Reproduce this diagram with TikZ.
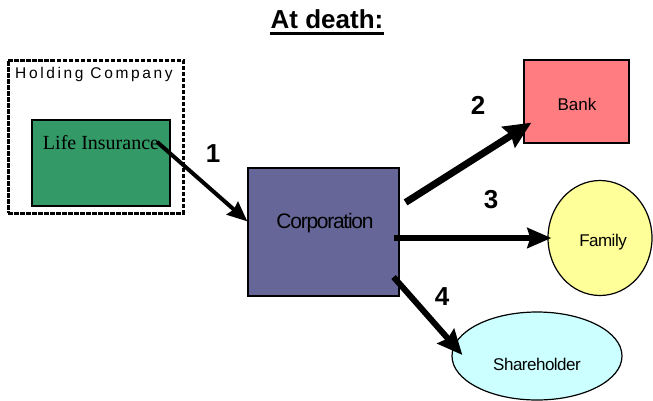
\documentclass[tikz,border=0pt]{standalone}
\usepackage{fontspec}
\setmainfont{Liberation Sans}
\newfontfamily\timesf{Liberation Serif}
\newfontfamily\spacedf[LetterSpace=17]{Liberation Sans}
\usetikzlibrary{arrows.meta,shapes.geometric,calc}
\tikzset{
  box/.style={draw=black, line width=1.2pt, inner sep=0pt},
  bigarrow/.style={draw=black},
  numlabel/.style={font=\fontsize{26}{26}\selectfont\bfseries, inner sep=0pt},
  lbl/.style={inner sep=0pt, anchor=base}
}
\begin{document}
\begin{tikzpicture}[x=1pt,y=-1pt]
\useasboundingbox (0,0) rectangle (653,400);
% title
\node[lbl, font=\fontsize{26}{26}\selectfont\bfseries] (title) at (327,28) {At death:};
\draw[line width=3pt] ([yshift=-5pt]title.base west) -- ([yshift=-5pt]title.base east);
% holding company
\node[box, line width=3pt, dash pattern=on 4.5pt off 1.5pt, minimum width=175pt, minimum height=153pt] (hold) at (95.5,136.5) {};
\node[lbl, anchor=base west, font=\spacedf\fontsize{15.5}{15.5}\selectfont] (holdtext) at (15,78) {Holding Company};
% life insurance
\node[box, fill={rgb,255:red,51;green,153;blue,102}, minimum width=138pt, minimum height=86pt] (li) at (101,163) {};
\node[lbl, font=\timesf\fontsize{20}{20}\selectfont] (litext) at (101,149) {Life Insurance};
% corporation
\node[box, fill={rgb,255:red,102;green,102;blue,153}, minimum width=151pt, minimum height=128pt] (corp) at (323.5,232) {};
\node[lbl, font=\fontsize{21}{21}\selectfont\addfontfeature{LetterSpace=-6}] (corptext) at (325,228) {Corporation};
% bank
\node[box, fill={rgb,255:red,255;green,124;blue,128}, minimum width=105pt, minimum height=83pt] (bank) at (576.5,101.5) {};
\node[lbl, font=\fontsize{17}{17}\selectfont] (banktext) at (577,110) {Bank};
% family
\node[box, ellipse, fill={rgb,255:red,255;green,255;blue,153}, minimum width=104pt, minimum height=115pt] (family) at (600,238) {};
\node[lbl, font=\fontsize{17}{17}\selectfont\addfontfeature{LetterSpace=-3}] (familytext) at (603,246) {Family};
% shareholder
\node[box, ellipse, fill={rgb,255:red,204;green,255;blue,255}, minimum width=170pt, minimum height=88pt] (share) at (537,356) {};
\node[lbl, font=\fontsize{17}{17}\selectfont\addfontfeature{LetterSpace=-3}] (sharetext) at (537,370) {Shareholder};
% arrows
\draw[bigarrow, line width=4pt, -{Stealth[length=20pt,width=17pt,inset=2pt]}] ([xshift=-2pt]litext.east) -- ($(corp.north west)+(0,54)$);
\draw[bigarrow, line width=7pt, -{Stealth[length=27pt,width=24pt,inset=3pt]}] ($(corp.north east)+(6,35)$) -- ($(bank.south west)+(8,-21)$);
\draw[bigarrow, line width=5.5pt, -{Stealth[length=24pt,width=20pt,inset=3pt]}] ($(corp.east)+(-6,6)$) -- ($(family.west)+(4,0)$);
\draw[bigarrow, line width=6pt, -{Stealth[length=25pt,width=22pt,inset=3pt]}] ($(corp.east)+(-6,45)$) -- ($(share.west)+(11,-1)$);
% labels
\node[numlabel] (n1) at (213,154) {1};
\node[numlabel] (n2) at (478,105) {2};
\node[numlabel] (n3) at (491,200) {3};
\node[numlabel] (n4) at (442,297) {4};
\end{tikzpicture}
\end{document}
